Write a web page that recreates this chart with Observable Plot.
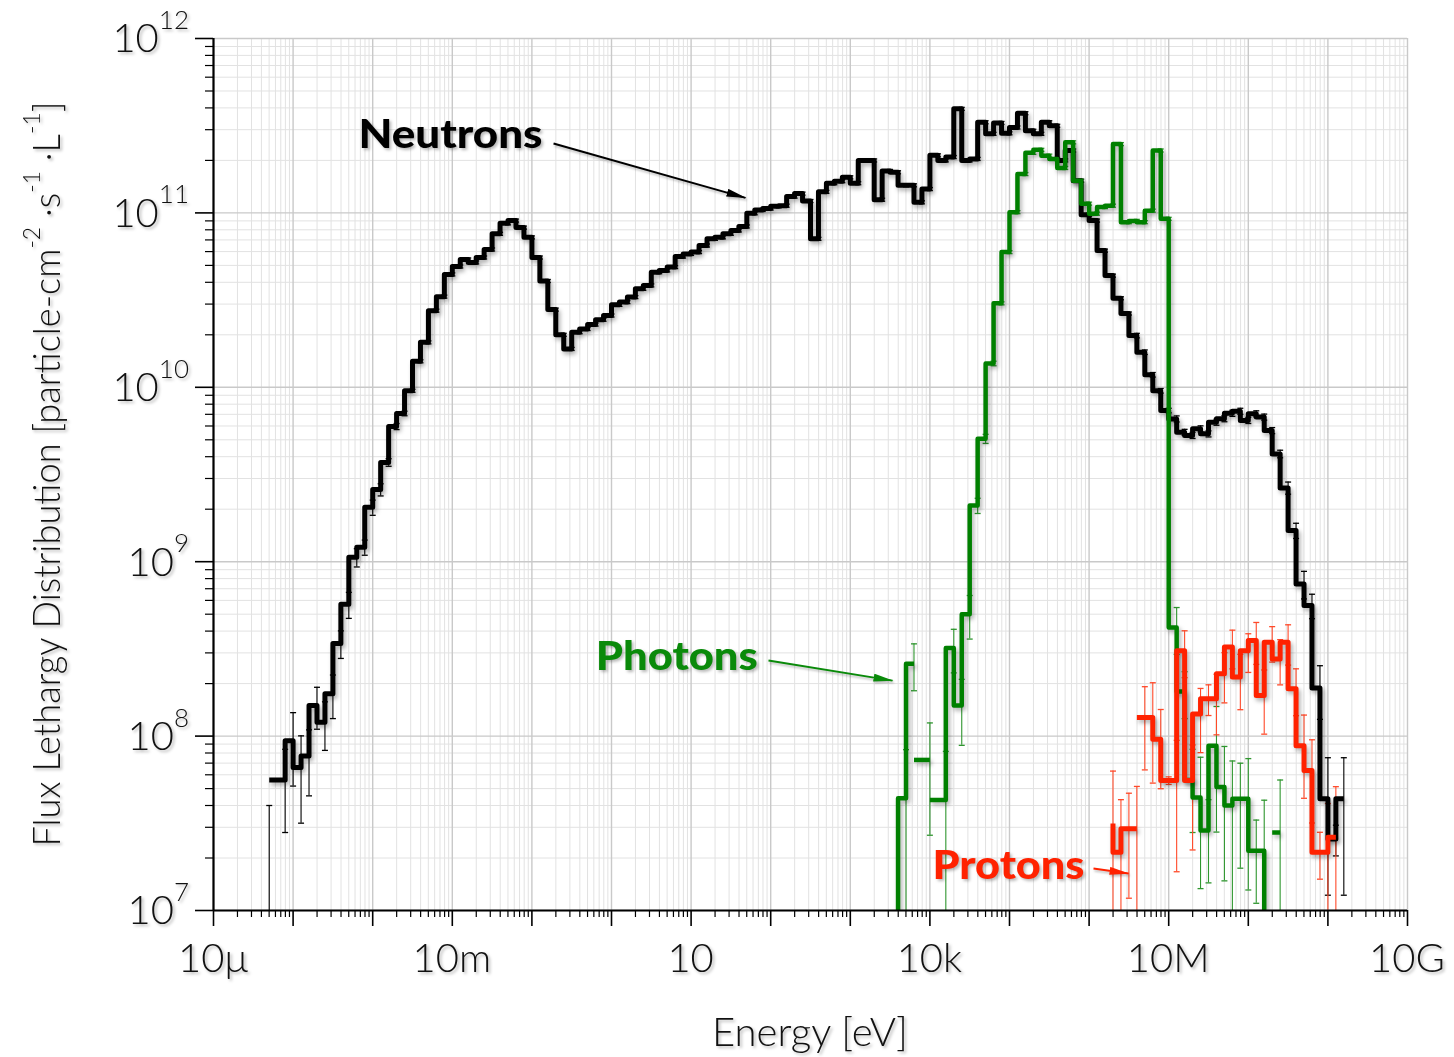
<!DOCTYPE html>
<html>
<head>
<meta charset="utf-8">
<script src="https://cdn.jsdelivr.net/npm/d3@7"></script>
<script src="https://cdn.jsdelivr.net/npm/@observablehq/plot@0.6"></script>
<style>
  html, body { margin: 0; padding: 0; background: #fff; }
  #chart svg { display: block; }
  #chart g[aria-label="line"] { filter: drop-shadow(2px 3px 2px rgba(0,0,0,0.30)); }
  #chart g[aria-label="text"], #chart .ylabels, #chart .xlabels, #chart .titles {
    filter: drop-shadow(2px 2px 1.5px rgba(0,0,0,0.28));
  }
  #chart g[aria-label="link"] { filter: drop-shadow(1px 2px 1px rgba(0,0,0,0.25)); }
</style>
</head>
<body>
<div id="chart"></div>
<script>
// ---------------- DATA ----------------
// Neutrons: log10(E/eV) bin edges, flux lethargy values per bin, relative errors per bin
const neutronEdgesLog = [
  -4.3, -4.1, -4.0, -3.9, -3.8, -3.7, -3.6, -3.5, -3.4, -3.3,
  -3.2, -3.1, -3.0, -2.9, -2.8, -2.7, -2.6, -2.5, -2.4, -2.3,
  -2.2, -2.1, -2.0, -1.9, -1.8, -1.7, -1.6, -1.5, -1.4, -1.3,
  -1.2, -1.1, -1.0, -0.9, -0.8, -0.7, -0.6, -0.5, -0.4, -0.3,
  -0.2, -0.1, 0.0, 0.1, 0.2, 0.3, 0.4, 0.5, 0.6, 0.7,
  0.8, 0.9, 1.0, 1.1, 1.2, 1.3, 1.4, 1.5, 1.6, 1.7,
  1.8, 1.9, 2.0, 2.1, 2.2, 2.3, 2.4, 2.5, 2.6, 2.7,
  2.8, 2.9, 3.0, 3.1, 3.2, 3.3, 3.4, 3.5, 3.6, 3.7,
  3.8, 3.9, 4.0, 4.1, 4.2, 4.3, 4.4, 4.5, 4.6, 4.7,
  4.8, 4.9, 5.0, 5.1, 5.2, 5.3, 5.4, 5.5, 5.6, 5.7,
  5.8, 5.9, 6.0, 6.1, 6.2, 6.3, 6.4, 6.5, 6.6, 6.7,
  6.8, 6.9, 7.0, 7.1, 7.2, 7.3, 7.4, 7.5, 7.6, 7.7,
  7.8, 7.9, 8.0, 8.1, 8.2, 8.3, 8.4, 8.5, 8.6, 8.7,
  8.8, 8.9, 9.0, 9.1, 9.2
];
const neutronFlux = [
  5.6e7, 9.4e7, 6.6e7, 7.7e7, 1.5e8, 1.2e8, 1.75e8, 3.4e8, 5.7e8, 1.06e9,
  1.21e9, 2.05e9, 2.59e9, 3.71e9, 5.96e9, 7.08e9, 9.55e9, 1.41e10, 1.81e10, 2.75e10,
  3.31e10, 4.44e10, 4.93e10, 5.41e10, 5.20e10, 5.55e10, 6.17e10, 7.59e10, 8.71e10, 9.04e10,
  8.24e10, 7.24e10, 5.55e10, 4.07e10, 2.79e10, 2.00e10, 1.66e10, 2.07e10, 2.16e10, 2.29e10,
  2.44e10, 2.58e10, 2.97e10, 3.08e10, 3.29e10, 3.67e10, 3.84e10, 4.57e10, 4.68e10, 4.89e10,
  5.62e10, 5.82e10, 5.96e10, 6.50e10, 7.10e10, 7.24e10, 7.59e10, 7.93e10, 8.36e10, 9.95e10,
  1.04e11, 1.06e11, 1.09e11, 1.10e11, 1.24e11, 1.29e11, 1.17e11, 7.10e10, 1.32e11, 1.48e11,
  1.52e11, 1.60e11, 1.48e11, 2.00e11, 2.00e11, 1.19e11, 1.74e11, 1.71e11, 1.44e11, 1.44e11,
  1.15e11, 1.37e11, 2.14e11, 2.00e11, 2.09e11, 3.95e11, 2.00e11, 2.04e11, 3.31e11, 2.84e11,
  3.28e11, 2.86e11, 3.09e11, 3.73e11, 2.96e11, 2.84e11, 3.31e11, 3.16e11, 2.00e11, 2.28e11,
  1.53e11, 9.77e10, 9.04e10, 6.08e10, 4.37e10, 3.24e10, 2.65e10, 1.98e10, 1.59e10, 1.18e10,
  9.55e9, 7.36e9, 6.59e9, 5.52e9, 5.30e9, 5.78e9, 5.41e9, 6.31e9, 6.61e9, 7.10e9,
  7.29e9, 6.46e9, 7.05e9, 6.75e9, 5.65e9, 4.15e9, 2.65e9, 1.51e9, 7.46e8, 5.61e8,
  1.89e8, 4.37e7, 2.57e7, 4.37e7
];
const neutronRelErr = [
  0.50, 0.45, 0.52, 0.41, 0.27, 0.31, 0.28, 0.18, 0.17, 0.12,
  0.10, 0.10, 0.08, 0.05, 0.04, 0.03, 0.02, 0.02, 0.02, 0.02,
  0.02, 0.02, 0.02, 0.02, 0.02, 0.02, 0.02, 0.02, 0.02, 0.02,
  0.02, 0.02, 0.02, 0.02, 0.02, 0.02, 0.02, 0.02, 0.02, 0.02,
  0.02, 0.02, 0.02, 0.02, 0.02, 0.02, 0.02, 0.02, 0.02, 0.02,
  0.02, 0.02, 0.02, 0.02, 0.02, 0.02, 0.02, 0.02, 0.02, 0.02,
  0.02, 0.02, 0.02, 0.02, 0.02, 0.02, 0.02, 0.02, 0.02, 0.02,
  0.02, 0.02, 0.02, 0.02, 0.02, 0.02, 0.02, 0.02, 0.02, 0.02,
  0.02, 0.02, 0.02, 0.02, 0.02, 0.02, 0.02, 0.02, 0.02, 0.02,
  0.02, 0.02, 0.02, 0.02, 0.02, 0.02, 0.02, 0.02, 0.02, 0.02,
  0.02, 0.02, 0.02, 0.02, 0.02, 0.02, 0.02, 0.03, 0.03, 0.03,
  0.03, 0.03, 0.04, 0.04, 0.04, 0.04, 0.04, 0.04, 0.04, 0.04,
  0.04, 0.04, 0.04, 0.04, 0.04, 0.05, 0.08, 0.10, 0.18, 0.16,
  0.34, 0.72, 0.20, 0.72
];
// lone error bar of an empty neutron bin just below the first plotted bin
const neutronExtraBarLogE = [-4.3];
const neutronExtraBarTop = [4.0e7];

// Photons: per-bin log10 lower / upper edges, values, relative errors (null = break in the line)
const photonLoLog = [3.5, 3.6, 3.7, null, 3.8, null, 4.0, 4.2, 4.3, 4.4, 4.5, 4.6, 4.7, 4.8, 4.9,
  5.0, 5.1, 5.2, 5.3, 5.4, 5.5, 5.6, 5.7, 5.8, 5.9, 6.0, 6.1, 6.2, 6.3, 6.4, 6.5, 6.6, 6.7, 6.8, 6.9,
  7.0, 7.1, 7.2, 7.3, 7.4, 7.5, 7.6, 7.7, 7.8, 7.9, 8.0, 8.1, 8.2, null, 8.3];
const photonHiLog = [3.6, 3.7, 3.8, null, 4.0, null, 4.2, 4.3, 4.4, 4.5, 4.6, 4.7, 4.8, 4.9, 5.0,
  5.1, 5.2, 5.3, 5.4, 5.5, 5.6, 5.7, 5.8, 5.9, 6.0, 6.1, 6.2, 6.3, 6.4, 6.5, 6.6, 6.7, 6.8, 6.9, 7.0,
  7.1, 7.2, 7.3, 7.4, 7.5, 7.6, 7.7, 7.8, 7.9, 8.0, 8.1, 8.2, 8.3, null, 8.4];
const photonFlux = [3e6, 4.4e7, 2.6e8, null, 7.3e7, null, 4.3e7, 3.2e8, 1.5e8, 5.0e8, 2.1e9, 5.07e9, 1.37e10, 3.03e10, 5.96e10,
  1.01e11, 1.67e11, 2.21e11, 2.30e11, 2.13e11, 2.04e11, 1.81e11, 2.54e11, 1.53e11, 1.13e11, 9.9e10, 1.08e11, 1.10e11, 2.48e11, 8.85e10, 9.0e10, 8.85e10, 1.03e11, 2.28e11, 9.25e10,
  4.2e8, 1.8e8, 5.6e7, 4.45e7, 2.88e7, 8.8e7, 5.1e7, 4.0e7, 4.37e7, 4.37e7, 2.2e7, 2.2e7, 3e6, null, 2.8e7];
const photonRelErr = [0, 0.90, 0.30, null, 0.63, null, 0.90, 0.28, 0.41, 0.28, 0.10, 0.06, 0.03, 0.02, 0.02,
  0.02, 0.02, 0.02, 0.02, 0.02, 0.02, 0.02, 0.02, 0.02, 0.02, 0.02, 0.02, 0.02, 0.02, 0.02, 0.02, 0.02, 0.02, 0.02, 0.02,
  0.30, 0.30, 0.50, 0.70, 0.50, 0.68, 0.71, 0.80, 0.60, 0.70, 0.50, 0.95, 0, null, 1.0];

// Protons
const protonLoLog = [6.3, 6.3, 6.4, 6.5, null, 6.6, 6.7, 6.8, 6.9, 7.0, 7.1, 7.2, 7.3, 7.4, 7.5, 7.6, 7.7,
  7.8, 7.9, 8.0, 8.1, 8.2, 8.3, 8.4, 8.5, 8.6, 8.7, 8.8, 8.9, 9.0];
const protonHiLog = [6.3, 6.4, 6.5, 6.6, null, 6.7, 6.8, 6.9, 7.0, 7.1, 7.2, 7.3, 7.4, 7.5, 7.6, 7.7, 7.8,
  7.9, 8.0, 8.1, 8.2, 8.3, 8.4, 8.5, 8.6, 8.7, 8.8, 8.9, 9.0, 9.1];
const protonFlux = [3.15e7, 2.16e7, 2.94e7, 2.94e7, null, 1.28e8, 1.28e8, 9.6e7, 5.56e7, 5.56e7, 3.09e8, 5.56e7, 1.34e8, 1.64e8, 1.64e8, 2.28e8, 3.24e8,
  2.18e8, 3.09e8, 3.53e8, 1.71e8, 3.45e8, 2.77e8, 3.45e8, 1.87e8, 8.8e7, 6.35e7, 2.16e7, 2.16e7, 2.63e7];
const protonRelErr = [1.0, 1.0, 0.60, 0.75, null, 0.50, 0.58, 0.48, 0.05, 0.70, 0.30, 0.60, 0.40, 0.20, 0.38, 0.32, 0.25,
  0.35, 0.25, 0.27, 0.40, 0.23, 0.29, 0.26, 0.30, 0.50, 0.50, 0.30, 0.90, 0.95];

// Axis ticks & labels
const xTickValues = [1e-5, 1e-2, 1e1, 1e4, 1e7, 1e10];
const xTickLabels = ["10\u03bc", "10m", "10", "10k", "10M", "10G"];
const yTickValues = [1e7, 1e8, 1e9, 1e10, 1e11, 1e12];
const yTickExponents = ["7", "8", "9", "10", "11", "12"];

// Annotations (positions in data space)
const annotationText = ["Neutrons", "Photons", "Protons"];
const annotationE = [9.5e-3, 6.6, 9.7e4];
const annotationFlux = [2.78e11, 2.82e8, 1.79e7];
const arrowFromE = [0.187, 93.8, 1.135e6];
const arrowFromFlux = [2.5e11, 2.71e8, 1.74e7];
const arrowToE = [48.2, 3.39e3, 3.13e6];
const arrowToFlux = [1.22e11, 2.08e8, 1.63e7];

// ---------------- STYLE ----------------
const FONT = "Lato, 'Open Sans', 'DejaVu Sans', sans-serif";
const COLORS = { neutron: "#000000", photon: "#008000", proton: "#ff2200" };
const BAR_COLORS = { neutron: "#000000", photon: "#2f962f", proton: "#ff4a2a" };
const annotationColor = [COLORS.neutron, "#0a8a0a", COLORS.proton];
const annotationWidth = [184, 162, 152];

// ---------------- BUILD ----------------
function buildSeries(lo, hi, val, err) {
  const pts = [], bars = [], caps = [];
  let seg = 0, prevHi = null;
  for (let i = 0; i < val.length; i++) {
    const v = val[i];
    if (v == null) { seg++; prevHi = null; continue; }
    if (prevHi !== null && prevHi !== lo[i]) seg++;
    pts.push({ E: 10 ** lo[i], v, seg }, { E: 10 ** hi[i], v, seg });
    prevHi = hi[i];
    const e = err[i];
    if (e && e > 0) {
      const E = 10 ** hi[i];
      const top = v * (1 + e);
      const low = v * (1 - e);
      bars.push({ E, y1: low > 0 ? low : 1e5, y2: top });
      caps.push({ E, y: top });
      if (low > 0) caps.push({ E, y: low });
    }
  }
  return { pts, bars, caps };
}

const neutron = buildSeries(neutronEdgesLog.slice(0, -1), neutronEdgesLog.slice(1), neutronFlux, neutronRelErr);
neutronExtraBarLogE.forEach((l, i) => {
  neutron.bars.push({ E: 10 ** l, y1: 1e5, y2: neutronExtraBarTop[i] });
  neutron.caps.push({ E: 10 ** l, y: neutronExtraBarTop[i] });
});
const photon = buildSeries(photonLoLog, photonHiLog, photonFlux, photonRelErr);
const proton = buildSeries(protonLoLog, protonHiLog, protonFlux, protonRelErr);

// grid / tick positions
const xDecades = d3.range(-5, 11).map(k => 10 ** k);
const yDecades = d3.range(7, 13).map(k => 10 ** k);
const xMinor = [], yMinor = [];
for (let k = -5; k < 10; k++) for (let m = 2; m < 10; m++) xMinor.push(m * 10 ** k);
for (let k = 7; k < 12; k++) for (let m = 2; m < 10; m++) yMinor.push(m * 10 ** k);

const capSymbol = {
  draw(ctx, size) { const r = Math.sqrt(size / Math.PI); ctx.moveTo(-r, 0); ctx.lineTo(r, 0); }
};

function errMarks(s, color) {
  return [
    Plot.ruleX(s.bars, { x: "E", y1: "y1", y2: "y2", stroke: color, strokeWidth: 1.1, clip: true }),
    Plot.dot(s.caps, { x: "E", y: "y", r: 3, symbol: capSymbol, stroke: color, fill: "none", strokeWidth: 1.3, clip: true })
  ];
}
function lineMark(s, color, w) {
  return Plot.line(s.pts, { x: "E", y: "v", z: "seg", stroke: color, strokeWidth: w, strokeLinejoin: "round", strokeLinecap: "butt", clip: true });
}

const idx = annotationText.map((_, i) => i);

const W = 1454, H = 1057;
const M = { left: 213, right: 47, top: 38, bottom: 147 };

const chart = Plot.plot({
  width: W, height: H,
  marginLeft: M.left, marginRight: M.right, marginTop: M.top, marginBottom: M.bottom,
  style: { fontFamily: FONT, background: "white", overflow: "visible" },
  x: { type: "log", domain: [1e-5, 1e10] },
  y: { type: "log", domain: [1e7, 1e12] },
  marks: [
    Plot.gridX(xMinor, { stroke: "#e2e2e2", strokeOpacity: 1, strokeWidth: 1 }),
    Plot.gridY(yMinor, { stroke: "#e2e2e2", strokeOpacity: 1, strokeWidth: 1 }),
    Plot.gridX(xDecades, { stroke: "#c9c9c9", strokeOpacity: 1, strokeWidth: 1.4 }),
    Plot.gridY(yDecades, { stroke: "#c9c9c9", strokeOpacity: 1, strokeWidth: 1.4 }),

    ...errMarks(neutron, BAR_COLORS.neutron),
    ...errMarks(photon, BAR_COLORS.photon),
    ...errMarks(proton, BAR_COLORS.proton),

    lineMark(neutron, COLORS.neutron, 5),
    lineMark(photon, COLORS.photon, 4.5),
    lineMark(proton, COLORS.proton, 5),

    // axes (tick marks; labels are added below)
    Plot.axisX({ ticks: xMinor, tickSize: 7, tickFormat: () => "", strokeWidth: 1.2, label: null }),
    Plot.axisX({ ticks: xDecades, tickSize: 16, tickFormat: () => "", strokeWidth: 1.6, label: null }),
    Plot.axisY({ ticks: yMinor, tickSize: 8, tickFormat: () => "", strokeWidth: 1.2, label: null }),
    Plot.axisY({ ticks: yDecades, tickSize: 18, tickFormat: () => "", strokeWidth: 1.6, label: null }),
    Plot.ruleX([1e-5], { stroke: "black", strokeWidth: 2.2 }),
    Plot.ruleY([1e7], { stroke: "black", strokeWidth: 2.2 }),

    // annotations
    Plot.link(idx, {
      x1: i => arrowFromE[i], y1: i => arrowFromFlux[i],
      x2: i => arrowToE[i], y2: i => arrowToFlux[i],
      stroke: i => annotationColor[i], strokeWidth: 2
    }),
    Plot.text(idx, {
      x: i => annotationE[i], y: i => annotationFlux[i], text: i => annotationText[i],
      fill: i => annotationColor[i], fontSize: 40, fontWeight: 900, textAnchor: "middle"
    })
  ]
});

document.getElementById("chart").appendChild(chart);

// ---------------- POST-PROCESS (tick labels, titles, arrowheads) ----------------
const svg = d3.select(chart);
function getScale(name, fallback) {
  try { const s = chart.scale(name); if (s && s.apply) return v => s.apply(v); } catch (e) {}
  return fallback;
}
const xPix = getScale("x", d3.scaleLog().domain([1e-5, 1e10]).range([M.left, W - M.right]));
const yPix = getScale("y", d3.scaleLog().domain([1e7, 1e12]).range([H - M.bottom, M.top]));

// x tick labels
const gX = svg.append("g").attr("class", "xlabels")
  .attr("font-family", FONT).attr("font-weight", 300).attr("text-anchor", "middle").attr("fill", "#111");
xTickValues.forEach((v, i) => {
  gX.append("text").attr("x", xPix(v)).attr("y", H - M.bottom + 62).attr("font-size", 40).text(xTickLabels[i]);
});

// y tick labels 10^n
const gY = svg.append("g").attr("class", "ylabels")
  .attr("font-family", FONT).attr("font-weight", 300).attr("text-anchor", "end").attr("fill", "#111");
yTickValues.forEach((v, i) => {
  const t = gY.append("text").attr("x", M.left - 24).attr("y", yPix(v)).attr("dy", "0.36em").attr("font-size", 40);
  t.append("tspan").text("10");
  t.append("tspan").attr("font-size", 26).attr("dy", "-0.9em").text(yTickExponents[i]);
});

// axis titles
const gT = svg.append("g").attr("class", "titles").attr("font-family", FONT).attr("font-weight", 300).attr("fill", "#111");
gT.append("text").attr("x", (M.left + W - M.right) / 2).attr("y", 1046)
  .attr("text-anchor", "middle").attr("font-size", 40)
  .attr("textLength", 196).attr("lengthAdjust", "spacingAndGlyphs")
  .text("Energy [eV]");
const yt = gT.append("text")
  .attr("transform", `translate(60,${(M.top + H - M.bottom) / 2}) rotate(-90)`)
  .attr("text-anchor", "middle").attr("font-size", 38)
  .attr("textLength", 745).attr("lengthAdjust", "spacingAndGlyphs");
yt.append("tspan").text("Flux Lethargy Distribution [particle-cm");
yt.append("tspan").attr("font-size", 24).attr("dy", "-0.85em").text("-2");
yt.append("tspan").attr("dy", "0.54em").text(" \u00b7s");
yt.append("tspan").attr("font-size", 24).attr("dy", "-0.85em").text("-1");
yt.append("tspan").attr("dy", "0.54em").text(" \u00b7L");
yt.append("tspan").attr("font-size", 24).attr("dy", "-0.85em").text("-1");
yt.append("tspan").attr("dy", "0.54em").text("]");

// filled arrowheads
const defs = svg.insert("defs", ":first-child");
annotationColor.forEach((c, i) => {
  defs.append("marker").attr("id", "ah" + i)
    .attr("viewBox", "0 0 20 8").attr("refX", 19).attr("refY", 4)
    .attr("markerWidth", 20).attr("markerHeight", 8)
    .attr("markerUnits", "userSpaceOnUse").attr("orient", "auto")
    .append("path").attr("d", "M0,0L20,4L0,8Z").attr("fill", c);
});
svg.selectAll('g[aria-label="link"] path').each(function (d, i) {
  d3.select(this).attr("marker-end", `url(#ah${i})`);
});
// annotation text widths
svg.selectAll('g[aria-label="text"] text').each(function () {
  const k = annotationText.indexOf(this.textContent);
  if (k >= 0) d3.select(this).attr("textLength", annotationWidth[k]).attr("lengthAdjust", "spacingAndGlyphs");
});
</script>
</body>
</html>
